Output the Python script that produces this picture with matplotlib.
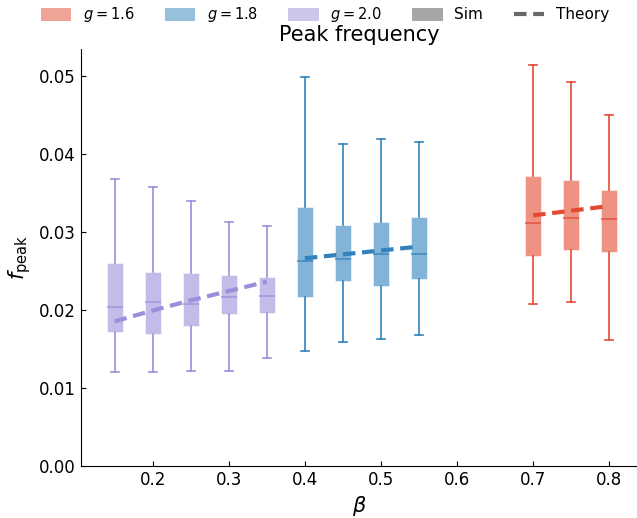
import matplotlib
matplotlib.use("Agg")
import matplotlib.pyplot as plt
from matplotlib.patches import Patch
from matplotlib.lines import Line2D

# beta positions per coupling g
beta_16 = [0.70, 0.75, 0.80]
beta_18 = [0.40, 0.45, 0.50, 0.55]
beta_20 = [0.15, 0.20, 0.25, 0.30, 0.35]

# simulated peak frequency distributions: whislo, q1, med, q3, whishi
sim_16 = [
    [0.0208, 0.0269, 0.0311, 0.0371, 0.0514],
    [0.0210, 0.0276, 0.0318, 0.0367, 0.0492],
    [0.0161, 0.0274, 0.0317, 0.0353, 0.0450],
]
sim_18 = [
    [0.0147, 0.0216, 0.0263, 0.0332, 0.0498],
    [0.0158, 0.0237, 0.0265, 0.0309, 0.0412],
    [0.0162, 0.0231, 0.0271, 0.0312, 0.0419],
    [0.0167, 0.0240, 0.0271, 0.0319, 0.0415],
]
sim_20 = [
    [0.0120, 0.0171, 0.0204, 0.0260, 0.0368],
    [0.0120, 0.0169, 0.0210, 0.0248, 0.0357],
    [0.0122, 0.0179, 0.0208, 0.0247, 0.0340],
    [0.0121, 0.0194, 0.0216, 0.0245, 0.0312],
    [0.0138, 0.0196, 0.0217, 0.0242, 0.0308],
]

# theory curves
theory_16 = [0.0321, 0.0327, 0.0333]
theory_18 = [0.0266, 0.0271, 0.0276, 0.0281]
theory_20 = [0.0185, 0.0199, 0.0212, 0.0224, 0.0236]

groups = [
    ("$g = 1.6$", beta_16, sim_16, theory_16, "#e34a33"),
    ("$g = 1.8$", beta_18, sim_18, theory_18, "#3182bd"),
    ("$g = 2.0$", beta_20, sim_20, theory_20, "#9b8fd9"),
]

fig = plt.figure(figsize=(6.37, 5.18), dpi=100)
ax = fig.add_axes([0.1267, 0.101, 0.8733, 0.8038])

for label, betas, sims, theory, color in groups:
    stats = [{"whislo": s[0], "q1": s[1], "med": s[2], "q3": s[3], "whishi": s[4], "fliers": []}
             for s in sims]
    bp = ax.bxp(stats, positions=betas, widths=0.021, patch_artist=True,
                showfliers=False, manage_ticks=False,
                boxprops=dict(facecolor=color, edgecolor="white", linewidth=0.6, alpha=0.6),
                medianprops=dict(color=color, linewidth=1.2, alpha=0.8),
                whiskerprops=dict(color=color, linewidth=1.2),
                capprops=dict(color=color, linewidth=1.2))
    ax.plot(betas, theory, ls="--", color=color, lw=3, dashes=(3, 1.6), zorder=5)

ax.set_xlim(0.1055, 0.8365)
ax.set_ylim(0, 0.0534)
ax.set_xticks([0.2, 0.3, 0.4, 0.5, 0.6, 0.7, 0.8])
ax.set_yticks([0.0, 0.01, 0.02, 0.03, 0.04, 0.05])
ax.set_yticklabels(["0.00", "0.01", "0.02", "0.03", "0.04", "0.05"])
ax.tick_params(direction="in", labelsize=12)
ax.spines["top"].set_visible(False)
ax.spines["right"].set_visible(False)
ax.set_xlabel(r"$\beta$", fontsize=15)
ax.set_ylabel(r"$f_{\rm peak}$", fontsize=15)
ax.set_title("Peak frequency", fontsize=15, pad=6)

handles = [Patch(facecolor=c, alpha=0.5) for _, _, _, _, c in groups]
handles.append(Patch(facecolor="grey", alpha=0.7))
handles.append(Line2D([0], [0], color="dimgrey", ls="--", lw=3, dashes=(3, 1.6)))
labels = [g[0] for g in groups] + ["Sim", "Theory"]
leg = fig.legend(handles, labels, loc="upper center", bbox_to_anchor=(0.51, 1.016), ncol=5,
                 frameon=False, fontsize=11, handlelength=2.0, handleheight=0.9,
                 columnspacing=2.0, handletextpad=0.75)
for t in leg.get_texts()[:3]:
    t.set_fontsize(10.5)

fig.savefig("out.png", dpi=100)
